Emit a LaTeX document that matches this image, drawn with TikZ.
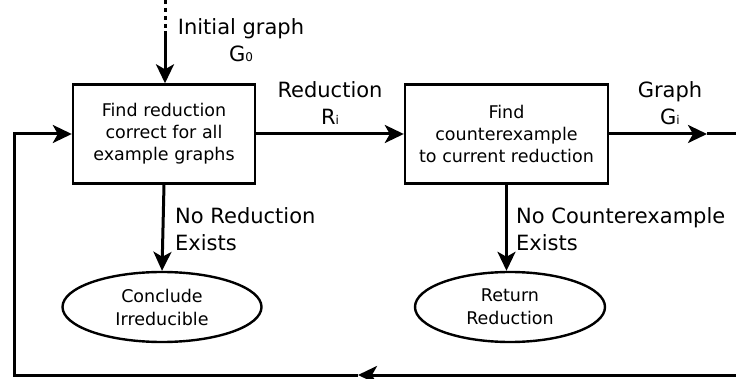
\documentclass[tikz,border=0pt]{standalone}
\usepackage{fontspec}
\setmainfont{DejaVu Sans}
\usetikzlibrary{shapes,positioning,calc,arrows.meta}
\newcommand{\idx}[1]{{\fontsize{12}{12}\selectfont #1}}

\begin{document}
\begin{tikzpicture}
  [x=1pt,y=-1pt,
   stepN/.style={rectangle,draw,line width=2.4pt,minimum width=#1,minimum height=99pt,
                 inner sep=0pt,align=center,font=\fontsize{17.5}{22}\selectfont},
   endN/.style={ellipse,draw,line width=2.4pt,minimum width=#1,minimum height=70pt,
                inner sep=0pt,align=center,font=\fontsize{17.5}{23}\selectfont},
   lbl/.style={inner sep=0pt,font=\fontsize{21}{27}\selectfont},
   arr/.style={-{Stealth[length=19pt,width=18pt,inset=5pt]},line width=3pt}]

  \useasboundingbox (0,0) rectangle (736,379);
  \clip (0,0) rectangle (736,379);

  \coordinate (start)  at (165,0);
  \coordinate (startS) at (165,31);

  \coordinate (gout) at (707,134);
  \coordinate (cR)   at (760,134);
  \coordinate (cBR)  at (760,375);
  \coordinate (cBM)  at (358,375);
  \coordinate (cBL)  at (14,375);
  \coordinate (cL)   at (14,134);

  \node[stepN=182pt] (find) at (164,134)   {Find reduction\\correct for all\\example graphs};
  \node[stepN=203pt] (cex)  at (506.5,134) {Find\\counterexample\\to current reduction};

  \node[endN=199pt] (irr) at (162,307) {Conclude\\Irreducible};
  \node[endN=190pt] (ret) at (510,307) {Return\\Reduction};

  %labels
  \node[lbl,align=center] (initL) at (241,40)    {Initial graph\\G\idx{0}};
  \node[lbl,align=center] (redL)  at (330,103.5) {Reduction\\R\idx{i}};
  \node[lbl,align=center] (grL)   at (670,103.5) {Graph\\G\idx{i}};
  \node[lbl,align=left,anchor=west] (noredL) at (175,229.5) {No Reduction\\Exists};
  \node[lbl,align=left,anchor=west] (nocexL) at (516,229.5) {No Counterexample\\Exists};

  \draw [line width=3pt,dash pattern=on 4pt off 4pt] (start) -- (startS);
  \draw [arr] (startS) -- (startS |- find.north);

  \draw [arr] (find) -- (cex);
  \draw [arr] (find.south) -- (irr.north);
  \draw [arr] (cex.south) -- (cex.south |- ret.north);

  \draw [arr] (cex.east) -- (gout);
  \draw [line width=3pt] (gout) -- (cR) -- (cBR);
  \draw [arr] (cBR) -- (cBM);
  \draw [arr] (cBM) -- (cBL) -- (cL) -- (find.west);
\end{tikzpicture}
\end{document}
